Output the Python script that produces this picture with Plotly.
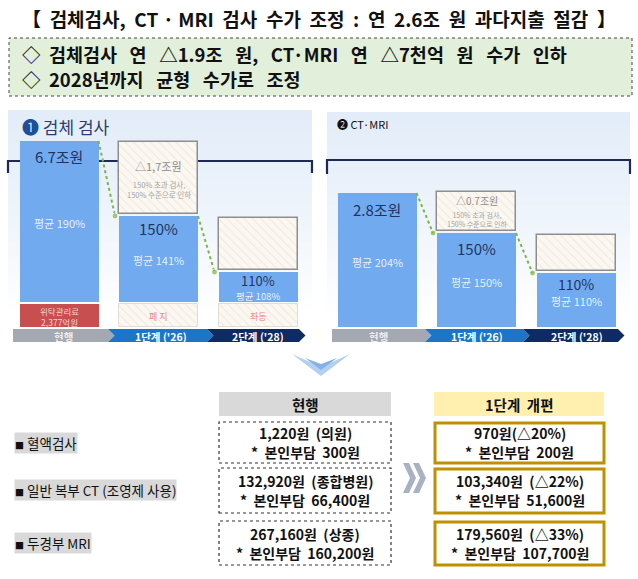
import plotly.graph_objects as go

W, H = 638, 579
FONT = "Noto Sans CJK KR"
NB = "\u00a0"

# ---------------- data ----------------
stages = ["현행", "1단계 ('26)", "2단계 ('28)"]

spec_blue = [161, 86, 30]      # 검체검사 bar level (chart units)
spec_cut = [0, 72, 52]         # hatched reduction box height
spec_top = ["6.7조원", "150%", "110%"]
spec_avg = ["평균 190%", "평균 141%", "평균 108%"]
spec_cut_label = ["", "△1,7조원", ""]
spec_cut_note = ["", "150% 초과 검사,<br>150% 수준으로 인하", ""]
spec_fee = ["위탁관리료<br>2,377억원", "폐 지", "좌동"]

ct_blue = [134, 94, 54]        # CT·MRI bar level (chart units)
ct_cut = [0, 39, 36]
ct_top = ["2.8조원", "150%", "110%"]
ct_avg = ["평균 204%", "평균 150%", "평균 110%"]
ct_cut_label = ["", "△0.7조원", ""]
ct_cut_note = ["", "150% 초과 검사,<br>150% 수준으로 인하", ""]

items = ["혈액검사", "일반 복부 CT (조영제 사용)", "두경부 MRI"]
cur_price = ["1,220원  (의원)", "132,920원  (종합병원)", "267,160원  (상종)"]
cur_copay = ["*  본인부담  300원", "*  본인부담  66,400원", "*  본인부담  160,200원"]
new_price = ["970원(△20%)", "103,340원  (△22%)", "179,560원  (△33%)"]
new_copay = ["*  본인부담  200원", "*  본인부담  51,600원", "*  본인부담  107,700원"]

# ---------------- helpers ----------------
def px(x):
    return x / W

def py(y):
    return 1 - y / H

def nb(s):
    return s.replace("   ", NB + NB + " ").replace("  ", NB + " ")

def path(pts):
    return "M " + " L ".join(f"{px(x):.5f},{py(y):.5f}" for x, y in pts) + " Z"

shapes = []
annots = []

def rect(x0, y0, x1, y1, fill, line=None, lw=0, dash="solid", layer="below"):
    shapes.append(dict(type="rect", xref="paper", yref="paper",
                       x0=px(x0), x1=px(x1), y0=py(y1), y1=py(y0),
                       fillcolor=fill, layer=layer,
                       line=dict(color=line or "rgba(0,0,0,0)", width=lw, dash=dash)))

def text(x, y, s, size, color="#000", bold=False, xanchor="center", family=FONT, bg=None):
    s = nb(s)
    annots.append(dict(xref="paper", yref="paper", x=px(x), y=py(y), text=(f"<b>{s}</b>" if bold else s),
                       showarrow=False, xanchor=xanchor, yanchor="middle",
                       font=dict(size=size, color=color, family=family),
                       bgcolor=bg, borderpad=0))

def hexmix(c1, c2, t):
    a = [int(c1[i:i + 2], 16) for i in (1, 3, 5)]
    b = [int(c2[i:i + 2], 16) for i in (1, 3, 5)]
    return "#" + "".join(f"{round(a[k] + (b[k] - a[k]) * t):02x}" for k in range(3))

# ---------------- header ----------------
text(319, 18, "【  검체검사,  CT · MRI  검사  수가  조정  :  연  2.6조  원  과다지출  절감  】", 19, "#111", bold=True)
rect(9, 38, 632, 96, "#E2EFDA", "#444", 1, "dot")
text(21, 54, "◇  검체검사   연   △1.9조   원,   CT·MRI   연   △7천억   원   수가   인하", 18.5, "#111", bold=True, xanchor="left")
text(21, 79, "◇  2028년까지   균형   수가로   조정", 18.5, "#111", bold=True, xanchor="left")

# ---------------- panel backgrounds (gradient strips) ----------------
def panel_bg(x0, x1, y0, y1, n=40):
    for k in range(n):
        ya = y0 + (y1 - y0) * k / n
        yb = y0 + (y1 - y0) * (k + 1) / n
        t = min(1, (k / n) ** 1.3 * 1.15)
        rect(x0, ya, x1, yb + 0.6, hexmix("#E3EDF9", "#FFFFFF", t))

panel_bg(8, 312, 110, 332)
panel_bg(327, 630, 112, 336)

# brackets
for (x0, x1, yl, yt) in [(8, 312, 161, 173), (327, 630, 160, 174)]:
    shapes.append(dict(type="path", xref="paper", yref="paper", layer="below",
                       path=f"M {px(x0)},{py(yt)} L {px(x0)},{py(yl)} L {px(x1)},{py(yl)} L {px(x1)},{py(yt)}",
                       line=dict(color="#1E2A55", width=2.2)))

# panel titles
text(21, 126, "<span style='color:#1F4E9A'>❶</span> 검체 검사", 17, "#2C3D6B", xanchor="left")
text(336, 124, "❷ CT·MRI", 11, "#111", xanchor="left")

# ---------------- bars ----------------
STEP = 99.5
L_C0, R_C0 = 59, 377
BW = 79 / STEP
HATCH = dict(shape="\\", fgcolor="#E4D8C2", bgcolor="#FBF8F2", size=6, solidity=0.18)

fig = go.Figure()

def add_panel(xa, ya, blue, cut, with_fee):
    xs = list(range(len(blue)))
    fig.add_trace(go.Bar(x=xs, y=blue, base=0, width=BW, marker=dict(color="#72AAF0", line=dict(width=0)),
                         xaxis=xa, yaxis=ya, hoverinfo="skip", showlegend=False))
    hx = [i for i in xs if cut[i] > 0]
    fig.add_trace(go.Bar(x=hx, y=[cut[i] for i in hx], base=[blue[i] + 2 for i in hx], width=BW,
                         marker=dict(color="#FBF8F2", pattern=HATCH, line=dict(color="#8E8E8E", width=1.5)),
                         xaxis=xa, yaxis=ya, hoverinfo="skip", showlegend=False))
    if with_fee:
        fig.add_trace(go.Bar(x=[0], y=[23], base=-25, width=BW, marker=dict(color="#C84F4F", line=dict(width=0)),
                             xaxis=xa, yaxis=ya, hoverinfo="skip", showlegend=False))
        fig.add_trace(go.Bar(x=[1, 2], y=[23, 23], base=-25, width=BW,
                             marker=dict(color="#FBF8F2", pattern=HATCH, line=dict(color="#E2DCD2", width=1)),
                             xaxis=xa, yaxis=ya, hoverinfo="skip", showlegend=False))
    # green dotted connectors
    for i in range(len(blue) - 1):
        fig.add_trace(go.Scatter(x=[i + BW / 2, i + 1 - BW / 2 - 0.04], y=[blue[i], blue[i + 1]],
                                 mode="lines+markers", line=dict(color="#7DB544", width=2, dash="dot"),
                                 marker=dict(size=[0, 6], color="#7DB544"),
                                 xaxis=xa, yaxis=ya, hoverinfo="skip", showlegend=False))

add_panel("x2", "y2", spec_blue, spec_cut, True)
add_panel("x3", "y3", ct_blue, ct_cut, False)

# bar labels (pixel layout)
NAVY = "#1F3560"
LCX = [L_C0 + STEP * i for i in range(3)]
RCX = [R_C0 + STEP * i for i in range(3)]
for i, (yt, ya, st, sa) in enumerate([(157, 223, 15, 11), (229, 260, 15, 11), (280, 295.5, 13, 9.5)]):
    text(LCX[i], yt, spec_top[i], st, NAVY)
    text(LCX[i], ya, spec_avg[i], sa, "rgba(255,255,255,0.85)")
text(LCX[1], 166, spec_cut_label[1], 11, "#8C8C8C")
text(LCX[1], 189, spec_cut_note[1], 7.5, "#A5A5A5")
text(LCX[0], 316, spec_fee[0], 8.5, "#F6CFCF")
text(LCX[1], 316, spec_fee[1], 9, "#E48A8A")
text(LCX[2], 316, spec_fee[2], 9, "#E48A8A")

for i, (yt, ya) in enumerate([(210, 262), (248, 282), (284, 301)]):
    text(RCX[i], yt, ct_top[i], 15 if i < 2 else 14, NAVY)
    text(RCX[i], ya, ct_avg[i], 11, "rgba(255,255,255,0.85)")
text(RCX[1], 200, ct_cut_label[1], 10, "#8C8C8C")
text(RCX[1], 219, ct_cut_note[1], 7, "#A5A5A5")

# stage chevrons
def chevrons(segs, top, bot, centers):
    mid = (top + bot) / 2
    cols = ["#A4A8B1", "#1C75C8", "#0E2B63"]
    tcols = ["#EDEDED", "#FFFFFF", "#FFFFFF"]
    for k, (x0, x1) in enumerate(segs):
        pts = [(x0, top), (x1, top), (x1 + 6.5, mid), (x1, bot), (x0, bot)]
        if k > 0:
            pts.append((x0 + 6.5, mid))
        shapes.append(dict(type="path", xref="paper", yref="paper", path=path(pts),
                           fillcolor=cols[k], line=dict(width=0), layer="below"))
        text(centers[k], mid + 0.5, stages[k], 10.5, tcols[k], bold=True)

chevrons([(13, 108), (108, 207), (207, 299)], 329, 342, [63, 161, 258])
chevrons([(332, 425), (425, 523), (523, 618)], 329, 342, [378, 477, 577])

# down arrow
shapes.append(dict(type="path", xref="paper", yref="paper", layer="below",
                   path=path([(292, 354), (321, 376), (350, 354), (321, 367)]),
                   fillcolor="#B3D0F1", line=dict(width=0)))
shapes.append(dict(type="path", xref="paper", yref="paper", layer="below",
                   path=path([(305, 358), (321, 370), (337, 358), (321, 364)]),
                   fillcolor="#86B1E6", line=dict(width=0)))

# ---------------- table ----------------
rect(219, 392, 391, 416, "#D9D9D9")
rect(434, 392, 604, 416, "#FFF0B0")
text(305, 404, "현행", 14.5, "#111", bold=True)
text(519, 404, "1단계  개편", 14.5, "#111", bold=True)

rows = [(422, 463), (468, 513), (521, 565)]
lab_y = [443, 490, 543]
for r, (y0, y1) in enumerate(rows):
    rect(219, y0, 391, y1, "#FFFFFF", "#333", 1.2, "dot")
    rect(435, y0 + 1, 604, y1, "#FFFFFF", "#BF9000", 3)
    m = (y0 + y1) / 2
    text(305, m - 9.5, cur_price[r], 14, "#111", bold=True)
    text(305, m + 9.5, cur_copay[r], 14, "#111", bold=True)
    text(519.5, m - 9.5, new_price[r], 14, "#111", bold=True)
    text(519.5, m + 9.5, new_copay[r], 14, "#111", bold=True)
    text(14, lab_y[r], "<span style='font-size:9px'>■</span> " + items[r], 13.5, "#111",
         xanchor="left", bg="#D9D9D9")

# >> chevrons
for dx in (0, 10):
    shapes.append(dict(type="path", xref="paper", yref="paper", layer="below",
                       path=path([(403 + dx, 463), (409 + dx, 463), (416 + dx, 478),
                                  (409 + dx, 493), (403 + dx, 493), (410 + dx, 478)]),
                       fillcolor="#A9B1C3", line=dict(width=0)))

# ---------------- axes ----------------
def xr(c0, d0, d1):
    return [(d0 - c0) / STEP, (d1 - c0) / STEP]

ax_off = dict(visible=False, showgrid=False, zeroline=False, fixedrange=True)
fig.update_layout(
    width=W, height=H, autosize=False,
    margin=dict(l=0, r=0, t=0, b=0),
    paper_bgcolor="#FFFFFF", plot_bgcolor="rgba(0,0,0,0)",
    barmode="overlay", bargap=0,
    xaxis2=dict(domain=[px(8), px(312)], range=xr(L_C0, 8, 312), anchor="y2", **ax_off),
    yaxis2=dict(domain=[py(327), py(110)], range=[-25, 192], anchor="x2", **ax_off),
    xaxis3=dict(domain=[px(327), px(630)], range=xr(R_C0, 327, 630), anchor="y3", **ax_off),
    yaxis3=dict(domain=[py(327), py(112)], range=[0, 215], anchor="x3", **ax_off),
    shapes=shapes, annotations=annots,
    showlegend=False,
)

fig.write_html("out.html")
